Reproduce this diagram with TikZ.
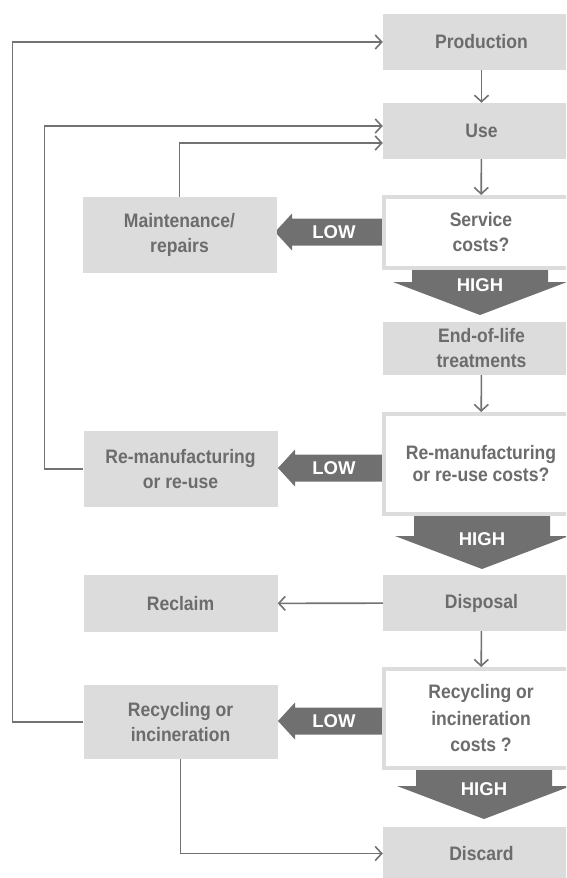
\documentclass[tikz,border=0pt]{standalone}
\usepackage{fontspec}
\setmainfont{Liberation Sans}[FakeStretch=0.9]
\newfontfamily\tagfont{Liberation Sans}
\usetikzlibrary{arrows.meta}
\definecolor{boxgray}{RGB}{220,220,220}
\definecolor{txtgray}{RGB}{108,108,108}
\definecolor{linegray}{RGB}{114,114,114}
\definecolor{arrowgray}{RGB}{112,112,112}

\begin{document}
\begin{tikzpicture}[x=1pt,y=-1pt,
  lbl/.style={font=\fontsize{19.5}{25}\selectfont\bfseries, text=txtgray, align=center},
  gbox/.style={lbl, fill=boxgray, inner sep=0pt, minimum height=#1},
  rbox/.style={gbox=#1, minimum width=197pt},
  lbox/.style={gbox=#1, minimum width=194pt},
  qbox/.style={lbl, draw=boxgray, line width=4pt, fill=white, inner sep=0pt,
    minimum width=194pt, minimum height=#1},
  conn/.style={draw=linegray, line width=1.6pt,
    -{Straight Barb[length=6.5pt,width=14pt]}},
  bigarrow/.style={fill=arrowgray},
  tag/.style={font=\tagfont\fontsize{18.5}{18.5}\selectfont\bfseries, text=white, inner sep=0pt}
]
\clip (0,0) rectangle (566,878);
\useasboundingbox (0,0) rectangle (566,878);

% LOW arrows (pointing left)
\foreach \cy/\tx/\i in {232/275/1, 468/278/2, 721/278/3}{
  \fill[bigarrow] (\tx,\cy) -- ({\tx+17},{\cy-18.5}) -- ({\tx+17},{\cy-13.5})
    -- (386,{\cy-13.5}) -- (386,{\cy+13.5}) -- ({\tx+17},{\cy+13.5})
    -- ({\tx+17},{\cy+18.5}) -- cycle;
  \node[tag] (low\i) at (334,\cy) {LOW};
}

% HIGH arrows (pointing down)
\foreach \cx/\ty/\my/\i in {480/266/282/1, 482/515/536/2, 484/768/786/3}{
  \fill[bigarrow] ({\cx-68},\ty) -- ({\cx+68},\ty) -- ({\cx+68},\my)
    -- ({\cx+87},\my) -- (\cx,{\my+33}) -- ({\cx-87},\my)
    -- ({\cx-68},\my) -- cycle;
  \node[tag] (high\i) at (\cx,{\my+3}) {HIGH};
}

% Right column
\node[rbox=56pt] (production) at (481.5,42) {Production};
\node[rbox=56pt] (use) at (481.5,131) {Use};
\node[qbox=71pt] (service) at (481,232.5) {Service\\costs?};
\node[rbox=53pt] (eol) at (481.5,348.5) {End-of-life\\treatments};
\node[qbox=100pt, font=\fontsize{19.5}{22}\selectfont\bfseries] (remancost) at (481,464) {Re-manufacturing\\or re-use costs?};
\node[rbox=56pt] (disposal) at (481.5,603) {Disposal};
\node[qbox=99pt, font=\fontsize{19.5}{26.5}\selectfont\bfseries] (reccost) at (481,718.5) {Recycling or\\incineration\\costs ?};
\node[rbox=53pt] (discard) at (481.5,853.5) {Discard};

% Left column
\node[lbox=76pt] (maint) at (179.5,235) {Maintenance/\\repairs};
\node[lbox=76pt] (reman) at (180.5,469) {Re-manufacturing\\or re-use};
\node[lbox=57pt] (reclaim) at (180.5,603.5) {Reclaim};
\node[lbox=74pt] (recyc) at (180.5,722) {Recycling or\\incineration};

% Entry points on the Use box
\coordinate (useA) at ([yshift=5pt]use.west);
\coordinate (useB) at ([yshift=-12pt]use.west);

% Main flow
\draw[conn] (production) -- (use);
\draw[conn] (use) -- (service);
\draw[conn] (eol) -- (remancost);
\draw[conn] (disposal) -- (reccost);
\draw[conn] (disposal) -- (reclaim);

% Feedback loops
\draw[conn] (recyc.west) -- ++(-71,0) |- (production.west);
\draw[conn] (reman.west) -- ++(-39,0) |- (useA);
\draw[conn] (maint.north) |- (useB);
\draw[conn] (recyc.south) |- (discard.west);
\end{tikzpicture}
\end{document}
